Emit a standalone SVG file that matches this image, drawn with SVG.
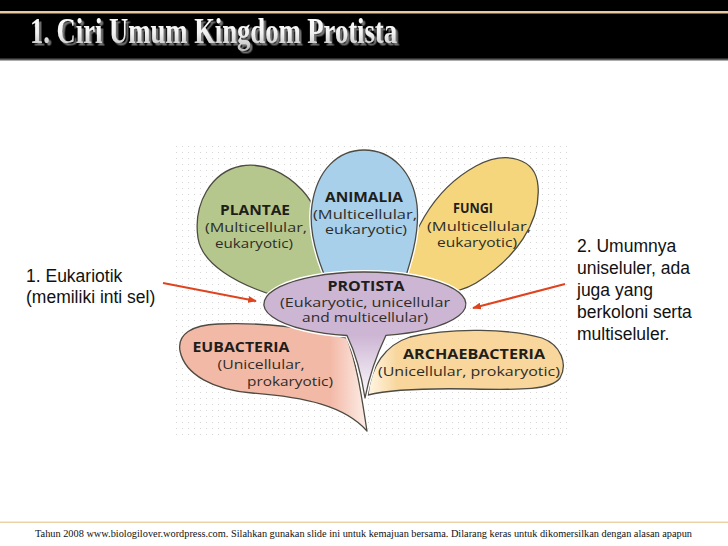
<svg xmlns="http://www.w3.org/2000/svg" xmlns:xlink="http://www.w3.org/1999/xlink" width="728" height="546" viewBox="0 0 728 546">
<style>
.halo{fill:none;stroke:#ffffff;stroke-width:4;stroke-linejoin:round}
.petal{stroke:#4d4b42;stroke-width:1.3;stroke-linejoin:round}
.hd{font-family:"Open Sans","Noto Sans",sans-serif;font-weight:700;font-size:15px;fill:#1e1e1a;text-anchor:middle}
.bd{font-family:"Open Sans","Noto Sans",sans-serif;font-size:13.5px;fill:#2e2d28;text-anchor:middle}
.lbl{font-family:"Liberation Sans",Arial,sans-serif;font-size:17.5px;fill:#111111}
.arrow{stroke:#e0431d;stroke-width:2;fill:none}
</style>
<defs>
<pattern id="dots" width="6" height="6" patternUnits="userSpaceOnUse"><rect x="2" y="2" width="1" height="1" fill="#d6d6d6"/></pattern>
<linearGradient id="titleGrad" x1="0" y1="0" x2="0" y2="1"><stop offset="0" stop-color="#ffffff"/><stop offset="0.55" stop-color="#f2f2f2"/><stop offset="1" stop-color="#b8b8b8"/></linearGradient>
<filter id="tshadow" x="-5%" y="-20%" width="110%" height="150%"><feDropShadow dx="2.5" dy="2.5" stdDeviation="0.6" flood-color="#707070" flood-opacity="1"/></filter>
<linearGradient id="protGrad" gradientUnits="userSpaceOnUse" x1="0" y1="300" x2="0" y2="400"><stop offset="0.35" stop-color="#cdb5d4"/><stop offset="1" stop-color="#ffffff"/></linearGradient>
<linearGradient id="eubGrad" gradientUnits="userSpaceOnUse" x1="180" y1="0" x2="368" y2="0"><stop offset="0.8" stop-color="#f3b9a7"/><stop offset="1" stop-color="#fdf0ea"/></linearGradient>
<linearGradient id="arcGrad" gradientUnits="userSpaceOnUse" x1="368" y1="0" x2="565" y2="0"><stop offset="0" stop-color="#fff6e6"/><stop offset="0.15" stop-color="#f8d69c"/><stop offset="1" stop-color="#f8d69c"/></linearGradient>
<marker id="ah" viewBox="0 0 10 8" refX="9" refY="4" markerWidth="9" markerHeight="7" markerUnits="userSpaceOnUse" orient="auto"><path d="M0,0 L10,4 L0,8 z" fill="#e0431d"/></marker>
<path id="pPlantae" d="M312 296 C332 268 326 216 302 190 C286 173 264 162 241 166 C211 172 193 204 198 238 C202 264 236 284 276 296 Z"/>
<path id="pFungi" d="M400 288 C408 236 432 190 476 166 C506 150 536 158 538 186 C541 222 516 258 476 283 C456 295 426 297 400 288 Z"/>
<path id="pAnimalia" d="M330 288 C318 262 308 232 312 205 C317 170 338 150 364 150 C392 150 413 172 417 205 C420 234 410 264 402 288 Z"/>
<path id="pEub" d="M367 431 C345 406 305 397 252 393 C214 390 185 375 180 351 C177 334 192 325 218 324 C262 322 312 328 347 338 C358 368 362 400 367 431 Z"/>
<path id="pArc" d="M368 395 C371 366 385 345 410 337 C452 327 512 329 542 338 C561 345 568 364 560 378 C551 390 522 390 472 389 C422 388 388 390 368 395 Z"/>
<path id="pProt" d="M347 335.5 A101 32 0 1 1 386 335.3 C378 352 370 372 365 398 C361 372 355 352 347 335.5 Z"/>
</defs>
<rect x="0" y="0" width="728" height="546" fill="#ffffff"/>
<g id="header">
<rect x="0" y="0" width="728" height="60" fill="#000000"/>
<rect x="0" y="11" width="728" height="2.5" fill="#e9c79f"/>
<rect x="0" y="58.5" width="728" height="2" fill="#5a5a5a"/>
<text x="30" y="43" font-family="'Liberation Serif','Times New Roman',serif" font-weight="700" font-size="36" textLength="367" lengthAdjust="spacingAndGlyphs" fill="url(#titleGrad)" filter="url(#tshadow)">1. Ciri Umum Kingdom Protista</text>
</g>
<rect id="dotted-bg" x="175" y="143" width="393" height="293" fill="url(#dots)"/>
<g id="plantae">
<use xlink:href="#pPlantae" class="halo"/>
<use xlink:href="#pPlantae" class="petal" fill="#b6c78d"/>
<text class="hd" x="255" y="215" textLength="70" lengthAdjust="spacingAndGlyphs">PLANTAE</text>
<text class="bd" x="256" y="232" textLength="102" lengthAdjust="spacingAndGlyphs">(Multicellular,</text>
<text class="bd" x="254" y="248" textLength="78" lengthAdjust="spacingAndGlyphs">eukaryotic)</text>
</g>
<g id="fungi">
<use xlink:href="#pFungi" class="halo"/>
<use xlink:href="#pFungi" class="petal" fill="#f5d67c"/>
<text class="hd" x="473" y="213" textLength="40" lengthAdjust="spacingAndGlyphs">FUNGI</text>
<text class="bd" x="479" y="231" textLength="104" lengthAdjust="spacingAndGlyphs">(Multicellular,</text>
<text class="bd" x="477" y="247" textLength="80" lengthAdjust="spacingAndGlyphs">eukaryotic)</text>
</g>
<g id="animalia">
<use xlink:href="#pAnimalia" class="halo"/>
<use xlink:href="#pAnimalia" class="petal" fill="#a9d0ea"/>
<text class="hd" x="364" y="202" textLength="78" lengthAdjust="spacingAndGlyphs">ANIMALIA</text>
<text class="bd" x="365" y="219" textLength="104" lengthAdjust="spacingAndGlyphs">(Multicellular,</text>
<text class="bd" x="366" y="234" textLength="82" lengthAdjust="spacingAndGlyphs">eukaryotic)</text>
</g>
<g id="eubacteria">
<use xlink:href="#pEub" class="halo"/>
<use xlink:href="#pEub" class="petal" fill="url(#eubGrad)"/>
<text class="hd" x="241" y="352" textLength="97" lengthAdjust="spacingAndGlyphs">EUBACTERIA</text>
<text class="bd" x="261" y="369" textLength="87" lengthAdjust="spacingAndGlyphs">(Unicellular,</text>
<text class="bd" x="290" y="386" textLength="86" lengthAdjust="spacingAndGlyphs">prokaryotic)</text>
</g>
<g id="archaebacteria">
<use xlink:href="#pArc" class="halo"/>
<use xlink:href="#pArc" class="petal" fill="url(#arcGrad)"/>
<text class="hd" x="474" y="359" textLength="142" lengthAdjust="spacingAndGlyphs">ARCHAEBACTERIA</text>
<text class="bd" x="469" y="376" textLength="182" lengthAdjust="spacingAndGlyphs">(Unicellular, prokaryotic)</text>
</g>
<g id="protista">
<use xlink:href="#pProt" class="halo"/>
<use xlink:href="#pProt" class="petal" fill="url(#protGrad)"/>
<text class="hd" x="366" y="291" textLength="77" lengthAdjust="spacingAndGlyphs">PROTISTA</text>
<text class="bd" x="365" y="307" textLength="170" lengthAdjust="spacingAndGlyphs">(Eukaryotic, unicellular</text>
<text class="bd" x="365" y="322" textLength="126" lengthAdjust="spacingAndGlyphs">and multicellular)</text>
</g>
<g id="label-left">
<text class="lbl" x="26" y="282">1. Eukariotik</text>
<text class="lbl" x="26" y="303">(memiliki inti sel)</text>
</g>
<g id="label-right">
<text class="lbl" x="577" y="252">2. Umumnya</text>
<text class="lbl" x="577" y="274">uniseluler, ada</text>
<text class="lbl" x="577" y="296">juga yang</text>
<text class="lbl" x="577" y="318">berkoloni serta</text>
<text class="lbl" x="577" y="340">multiseluler.</text>
</g>
<g id="connectors">
<line class="arrow" x1="163" y1="283" x2="256" y2="301" marker-end="url(#ah)"/>
<line class="arrow" x1="565" y1="284" x2="473" y2="308" marker-end="url(#ah)"/>
</g>
<g id="footer">
<rect x="0" y="521.5" width="728" height="1.5" fill="#ecd3a6"/>
<text x="35" y="537" font-family="'Liberation Serif','Times New Roman',serif" font-size="10.5" textLength="657" lengthAdjust="spacingAndGlyphs" fill="#111111">Tahun  2008 www.biologilover.wordpress.com. Silahkan gunakan slide ini untuk kemajuan bersama. Dilarang  keras  untuk dikomersilkan  dengan alasan apapun</text>
</g>
</svg>
